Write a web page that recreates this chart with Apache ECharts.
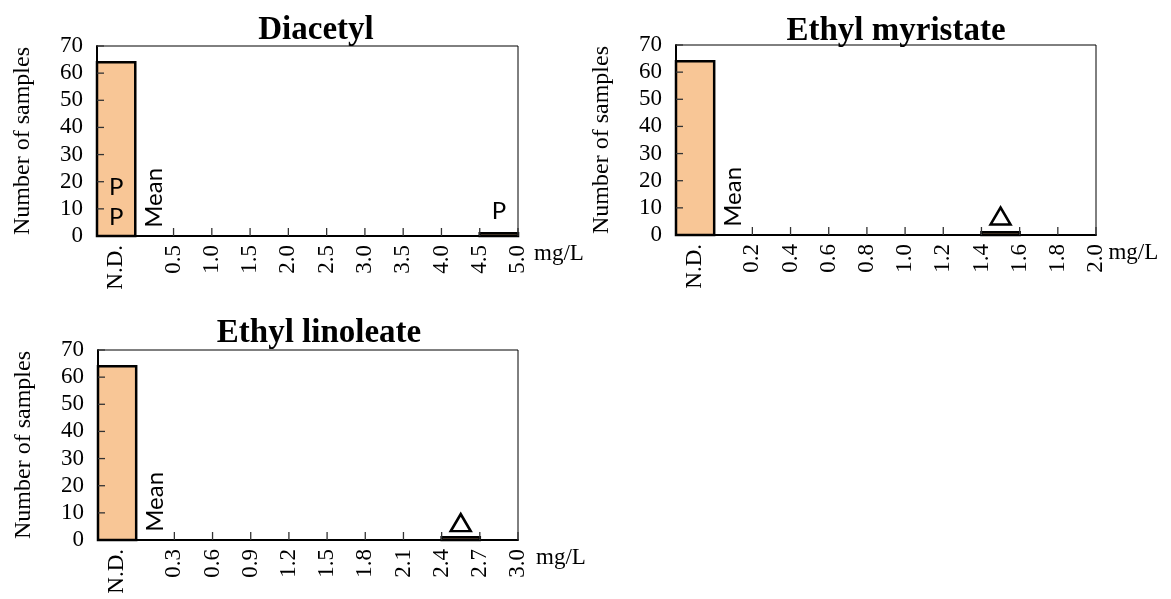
<!DOCTYPE html>
<html>
<head>
<meta charset="utf-8">
<script src="https://cdn.jsdelivr.net/npm/echarts@6/dist/echarts.min.js"></script>
<style>
  html, body { margin: 0; padding: 0; background: #fff; }
  #chart { width: 1171px; height: 599px; }
</style>
</head>
<body>
<div id="chart"></div>
<script>
// Frequency of samples per concentration bin; column 0 is "N.D." (not detected)
const titles = ['Diacetyl', 'Ethyl myristate', 'Ethyl linoleate'];
const binWidths = [0.5, 0.2, 0.3];

const diacetylCounts  = [64, 0, 0, 0, 0, 0, 0, 0, 0, 0, 1];
const myristateCounts = [64, 0, 0, 0, 0, 0, 0, 0, 1, 0, 0];
const linoleateCounts = [64, 0, 0, 0, 0, 0, 0, 0, 0, 1, 0];

const diacetylTicks  = [0.5, 1.0, 1.5, 2.0, 2.5, 3.0, 3.5, 4.0, 4.5, 5.0];
const myristateTicks = [0.2, 0.4, 0.6, 0.8, 1.0, 1.2, 1.4, 1.6, 1.8, 2.0];
const linoleateTicks = [0.3, 0.6, 0.9, 1.2, 1.5, 1.8, 2.1, 2.4, 2.7, 3.0];

const countTicks = [0, 10, 20, 30, 40, 50, 60, 70];
const countMax = 70;
const countStep = 10;

// Text notes placed in a column (0 = N.D.) at a count height
const diacetylNotes  = [
  { col: 0, y: 18, text: 'P' },
  { col: 0, y: 7,  text: 'P' },
  { col: 10, y: 9, text: 'P' }
];
const myristateNotes = [];
const linoleateNotes = [];
const meanNote = { col: 1, y: 3, text: 'Mean' };

// Open triangle markers above a column
const diacetylMarkers  = [];
const myristateMarkers = [{ col: 8, y: 7 }];
const linoleateMarkers = [{ col: 9, y: 6.4 }];

const SERIF = '"Liberation Serif", "Times New Roman", serif';
const SANS = 'Lato, "Open Sans", "Noto Sans", sans-serif';
const BAR_FILL = '#F8C696';

const panels = [
  { counts: diacetylCounts,  ticks: diacetylTicks,  notes: diacetylNotes,  markers: diacetylMarkers,
    grid: { left: 97, top: 46, width: 421, height: 190 }, title: { x: 311, y: 9 }, nameGap: 16 },
  { counts: myristateCounts, ticks: myristateTicks, notes: myristateNotes, markers: myristateMarkers,
    grid: { left: 676, top: 45, width: 420, height: 190 }, title: { x: 891, y: 10 }, nameGap: 11 },
  { counts: linoleateCounts, ticks: linoleateTicks, notes: linoleateNotes, markers: linoleateMarkers,
    grid: { left: 98, top: 350, width: 420, height: 190 }, title: { x: 314, y: 312 }, nameGap: 18 }
];

const option = {
  animation: false,
  backgroundColor: '#fff',
  title: [],
  grid: [],
  xAxis: [],
  yAxis: [],
  series: []
};

panels.forEach((p, i) => {
  const step = binWidths[i];
  const xMin = -step;
  const colCenter = (col) => (col - 0.5) * step;

  option.title.push({
    text: titles[i],
    left: p.title.x,
    top: p.title.y,
    textAlign: 'center',
    textStyle: { fontFamily: SERIF, fontWeight: 'bold', fontSize: 33, color: '#000' }
  });

  option.grid.push(Object.assign({
    show: true, borderColor: '#000', borderWidth: 1, backgroundColor: 'transparent'
  }, p.grid));

  option.xAxis.push({
    type: 'value',
    gridIndex: i,
    min: xMin,
    max: p.ticks[p.ticks.length - 1],
    name: 'mg/L',
    nameLocation: 'end',
    nameGap: p.nameGap,
    nameTextStyle: { fontFamily: SERIF, fontSize: 23, color: '#000', verticalAlign: 'top', padding: [6, 0, 0, 0] },
    splitLine: { show: false },
    axisLine: { show: true, onZero: false, lineStyle: { color: '#000', width: 2 } },
    axisTick: { show: false },
    axisLabel: {
      show: true,
      rotate: 90,
      margin: 9,
      customValues: [colCenter(0)].concat(p.ticks),
      formatter: (v) => (v < 0 ? 'N.D.' : v.toFixed(1)),
      fontFamily: SERIF, fontSize: 23, color: '#000'
    }
  });

  option.yAxis.push({
    type: 'value',
    gridIndex: i,
    min: 0,
    max: countMax,
    interval: countStep,
    name: 'Number of samples',
    nameLocation: 'middle',
    nameRotate: 90,
    nameGap: 62,
    nameTextStyle: { fontFamily: SERIF, fontSize: 24, color: '#000' },
    splitLine: { show: false },
    axisLine: { show: true, onZero: false, lineStyle: { color: '#000', width: 2 } },
    axisTick: { show: false },
    axisLabel: { margin: 14, fontFamily: SERIF, fontSize: 23, color: '#000' }
  });

  // Histogram columns
  option.series.push({
    type: 'custom',
    xAxisIndex: i,
    yAxisIndex: i,
    data: p.counts.map((c, k) => [(k - 1) * step, k * step, c]),
    encode: { x: [0, 1], y: 2 },
    z: 3,
    renderItem: (params, api) => {
      const count = api.value(2);
      if (!(count > 0)) return null;
      const topLeft = api.coord([api.value(0), count]);
      const bottomRight = api.coord([api.value(1), 0]);
      return {
        type: 'rect',
        shape: {
          x: topLeft[0], y: topLeft[1],
          width: bottomRight[0] - topLeft[0],
          height: bottomRight[1] - topLeft[1]
        },
        style: { fill: BAR_FILL, stroke: '#000', lineWidth: 2.5 }
      };
    }
  });

  // Inward tick marks on both axes, drawn above the columns
  const tickItems = p.ticks.map((v) => [v, 0, 0])
    .concat(countTicks.filter((v) => v > 0).map((v) => [xMin, v, 1]));
  option.series.push({
    type: 'custom',
    xAxisIndex: i,
    yAxisIndex: i,
    z: 4,
    silent: true,
    data: tickItems,
    renderItem: (params, api) => {
      const pt = api.coord([api.value(0), api.value(1)]);
      const vertical = api.value(2) === 0;
      return {
        type: 'line',
        shape: vertical
          ? { x1: pt[0], y1: pt[1], x2: pt[0], y2: pt[1] - 8 }
          : { x1: pt[0], y1: pt[1], x2: pt[0] + 7, y2: pt[1] },
        style: { stroke: '#333', lineWidth: 1.3 }
      };
    }
  });

  // Text notes ("P" and the rotated "Mean")
  const notes = p.notes.concat([meanNote]);
  option.series.push({
    type: 'custom',
    xAxisIndex: i,
    yAxisIndex: i,
    z: 6,
    data: notes.map((n) => [colCenter(n.col), n.y]),
    renderItem: (params, api) => {
      const n = notes[params.dataIndex];
      const pt = api.coord([api.value(0), api.value(1)]);
      const rotated = n.text === 'Mean';
      return {
        type: 'text',
        x: pt[0],
        y: pt[1],
        rotation: rotated ? Math.PI / 2 : 0,
        style: {
          text: n.text,
          font: '24px ' + SANS,
          fill: '#000',
          align: rotated ? 'left' : 'center',
          verticalAlign: 'middle'
        }
      };
    }
  });

  // Triangle markers
  if (p.markers.length) {
    option.series.push({
      type: 'scatter',
      xAxisIndex: i,
      yAxisIndex: i,
      data: p.markers.map((m) => [colCenter(m.col), m.y]),
      symbol: 'triangle',
      symbolSize: [20, 17],
      itemStyle: { color: '#fff', borderColor: '#000', borderWidth: 2.5, opacity: 1 },
      z: 5
    });
  }
});

const chart = echarts.init(document.getElementById('chart'), null, { renderer: 'canvas' });
chart.setOption(option);
</script>
</body>
</html>
